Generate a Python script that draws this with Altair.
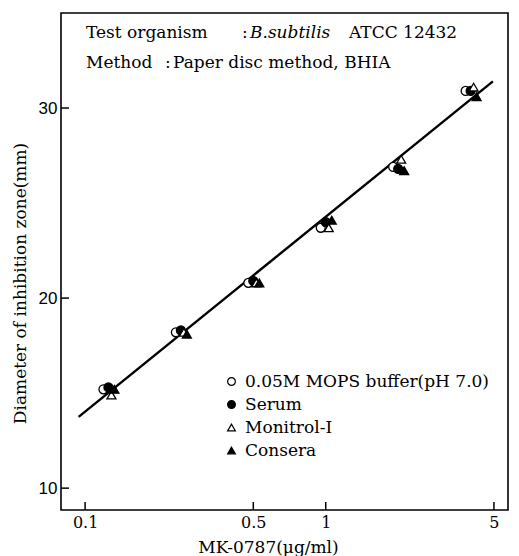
import altair as alt
import pandas as pd

# Concentrations of MK-0787 (µg/ml) and inhibition-zone diameters (mm)
conc = [0.125, 0.25, 0.5, 1, 2, 4]
mops = [15.2, 18.2, 20.8, 23.7, 26.9, 30.9]
serum = [15.3, 18.3, 20.9, 24.0, 26.8, 30.9]
monitrol = [14.9, 18.2, 20.8, 23.7, 27.3, 31.1]
consera = [15.2, 18.1, 20.8, 24.1, 26.7, 30.6]

series_names = ["0.05M MOPS  buffer(pH 7.0)", "Serum", "Monitrol-I", "Consera"]
series_values = [mops, serum, monitrol, consera]
# small horizontal shift per series so overlapping symbols stay visible
series_shift = [-5, 0, 3, 6]

# Standard curve (regression line) end points
line_x = [0.094, 4.95]
line_y = [13.75, 31.4]

x_ticks = [0.1, 0.5, 1, 5]
y_ticks = [10, 20, 30]

W, H = 447, 497
SERIF = "DejaVu Serif"
SANS = "Liberation Sans"

rows = []
for name, vals in zip(series_names, series_values):
    for c, v in zip(conc, vals):
        rows.append({"conc": c, "diam": v, "series": name})
pts = pd.DataFrame(rows)
line_df = pd.DataFrame({"conc": line_x, "diam": line_y})

xscale = alt.Scale(type="log", domain=[0.0794, 5.72], nice=False)
yscale = alt.Scale(domain=[8.85, 35], nice=False, zero=False)

x_axis = alt.Axis(
    values=x_ticks, format="~g", ticks=False, domain=False, grid=False,
    labelFont=SERIF, labelFontSize=16, labelColor="black", labelPadding=4,
    title="MK-0787(μg/ml)", titleFont=SERIF, titleFontSize=17,
    titleFontWeight="normal", titleColor="black", titlePadding=9,
    titleX=207, titleAnchor="middle",
)
y_axis = alt.Axis(
    values=y_ticks, ticks=False, domain=False, grid=False,
    labelFont=SANS, labelFontSize=17, labelColor="black", labelPadding=4,
    title="Diameter of inhibition zone(mm)", titleFont=SERIF, titleFontSize=17,
    titleFontWeight="normal", titleColor="black", titlePadding=9,
    titleY=270, titleAnchor="middle",
)

line = alt.Chart(line_df).mark_line(color="black", strokeWidth=2.4).encode(
    x=alt.X("conc:Q", scale=xscale, axis=x_axis),
    y=alt.Y("diam:Q", scale=yscale, axis=y_axis),
)

legend = alt.Legend(
    title=None, orient="none", legendX=162, legendY=360, padding=0,
    labelFont=SERIF, labelFontSize=17, labelColor="black", labelOffset=5,
    labelLimit=400, rowPadding=5, symbolSize=60, symbolStrokeWidth=1.2,
)

shape_scale = alt.Scale(domain=series_names, range=["circle", "circle", "triangle-up", "triangle-up"])
fill_scale = alt.Scale(domain=series_names, range=["white", "black", "white", "black"])
stroke_scale = alt.Scale(domain=series_names, range=["black"] * 4)

point_layers = []
for name, shift in zip(series_names, series_shift):
    point_layers.append(
        alt.Chart(pts).transform_filter(alt.datum.series == name).mark_point(
            filled=True, strokeWidth=1.3, size=80, opacity=1, xOffset=shift
        ).encode(
            x=alt.X("conc:Q", scale=xscale),
            y=alt.Y("diam:Q", scale=yscale),
            shape=alt.Shape("series:N", scale=shape_scale, legend=legend),
            fill=alt.Fill("series:N", scale=fill_scale, legend=legend),
            stroke=alt.Stroke("series:N", scale=stroke_scale, legend=legend),
        )
    )

# Inward tick marks along the left and bottom edges of the frame
ytick_df = pd.DataFrame({"diam": y_ticks})
xtick_df = pd.DataFrame({"conc": x_ticks})
yticks = alt.Chart(ytick_df).mark_rule(color="black", strokeWidth=1.5).encode(
    y=alt.Y("diam:Q", scale=yscale), x=alt.value(0), x2=alt.value(8)
)
xticks = alt.Chart(xtick_df).mark_rule(color="black", strokeWidth=1.5).encode(
    x=alt.X("conc:Q", scale=xscale), y=alt.value(H), y2=alt.value(H - 8)
)

# Test conditions written in the upper-left corner
def note(text, x, y, style="normal"):
    return alt.Chart(pd.DataFrame({"t": [text]})).mark_text(
        font=SERIF, fontSize=17, fontStyle=style, align="left", baseline="middle", color="black"
    ).encode(text="t:N", x=alt.value(x), y=alt.value(y))

notes = (
    note("Test organism", 25, 20)
    + note(":", 181, 20)
    + note("B.subtilis", 189, 20, "italic")
    + note("ATCC 12432", 288, 20)
    + note("Method", 25, 50)
    + note(":", 104, 50)
    + note("Paper disc method, BHIA", 112, 50)
)

chart = alt.layer(line, *point_layers, yticks, xticks, notes).properties(
    width=W, height=H,
    autosize=alt.AutoSizeParams(type="none"),
    padding={"left": 61, "top": 13, "right": 11, "bottom": 46},
    background="white",
).configure_view(stroke="black", strokeWidth=1.6)

chart.save("out.html", embed_options={"renderer": "svg", "actions": False})
